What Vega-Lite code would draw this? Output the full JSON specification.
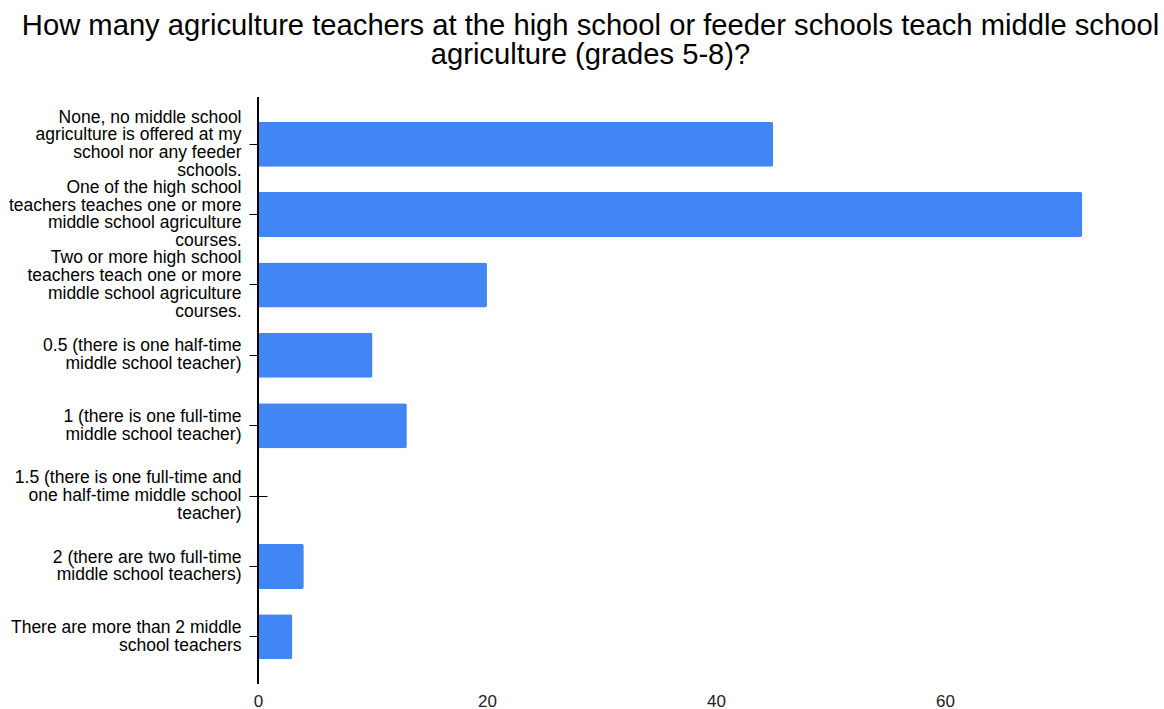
{
  "$schema": "https://vega.github.io/schema/vega-lite/v6.json",
  "width": 893,
  "height": 587,
  "autosize": {"type": "none"},
  "padding": {"left": 258, "top": 97, "right": 13, "bottom": 25},
  "background": "white",
  "title": {
    "text": ["How many agriculture teachers at the high school or feeder schools teach middle school", "agriculture (grades 5-8)?"],
    "anchor": "middle",
    "frame": "group",
    "dx": -114,
    "offset": 26,
    "font": "Liberation Sans",
    "fontSize": 29.2,
    "fontWeight": "normal",
    "color": "#000000",
    "lineHeight": 29
  },
  "config": {"view": {"stroke": null}},
  "data": {
    "values": [
      {"answer": "None, no middle school agriculture is offered at my school nor any feeder schools.", "count": 45},
      {"answer": "One of the high school teachers teaches one or more middle school agriculture courses.", "count": 72},
      {"answer": "Two or more high school teachers teach one or more middle school agriculture courses.", "count": 20},
      {"answer": "0.5 (there is one half-time middle school teacher)", "count": 10},
      {"answer": "1 (there is one full-time middle school teacher)", "count": 13},
      {"answer": "1.5 (there is one full-time and one half-time middle school teacher)", "count": 0},
      {"answer": "2 (there are two full-time middle school teachers)", "count": 4},
      {"answer": "There are more than 2 middle school teachers", "count": 3}
    ]
  },
  "layer": [
    {
      "mark": {"type": "bar", "color": "#4285f4", "cornerRadiusEnd": 2},
      "encoding": {
        "y": {
          "field": "answer",
          "type": "nominal",
          "sort": null,
          "scale": {"paddingInner": 0.36, "paddingOuter": 0.35},
          "axis": {
            "title": null,
            "domain": false,
            "ticks": true,
            "tickSize": 18,
            "tickColor": "#000000",
            "tickWidth": 1,
            "offset": -9,
            "labelPadding": 8,
            "labelFont": "Liberation Sans",
            "labelFontSize": 17.5,
            "labelColor": "#000000",
            "labelLineHeight": 17.7,
            "labelLimit": 300,
            "labelAlign": "right",
            "labelBaseline": "middle",
            "labelOffset": {
              "condition": [
                {"test": "indexof(datum.value, 'courses.') >= 0 || indexof(datum.value, 'None,') == 0", "value": -26.5},
                {"test": "indexof(datum.value, '1.5 ') == 0", "value": -17.7}
              ],
              "value": -8.85
            },
            "labelExpr": "{'None, no middle school agriculture is offered at my school nor any feeder schools.': ['None, no middle school', 'agriculture is offered at my', 'school nor any feeder', 'schools.'], 'One of the high school teachers teaches one or more middle school agriculture courses.': ['One of the high school', 'teachers teaches one or more', 'middle school agriculture', 'courses.'], 'Two or more high school teachers teach one or more middle school agriculture courses.': ['Two or more high school', 'teachers teach one or more', 'middle school agriculture', 'courses.'], '0.5 (there is one half-time middle school teacher)': ['0.5 (there is one half-time', 'middle school teacher)'], '1 (there is one full-time middle school teacher)': ['1 (there is one full-time', 'middle school teacher)'], '1.5 (there is one full-time and one half-time middle school teacher)': ['1.5 (there is one full-time and', 'one half-time middle school', 'teacher)'], '2 (there are two full-time middle school teachers)': ['2 (there are two full-time', 'middle school teachers)'], 'There are more than 2 middle school teachers': ['There are more than 2 middle', 'school teachers']}[datum.value]"
          }
        },
        "x": {
          "field": "count",
          "type": "quantitative",
          "scale": {"domain": [0, 78], "nice": false},
          "axis": {
            "title": null,
            "values": [0, 20, 40, 60],
            "domain": false,
            "ticks": false,
            "grid": false,
            "labelFlush": false,
            "labelPadding": 9,
            "labelFont": "Liberation Sans",
            "labelFontSize": 17,
            "labelColor": "#222222"
          }
        }
      }
    },
    {
      "mark": {"type": "rule", "color": "#000000", "strokeWidth": 1},
      "encoding": {"x": {"datum": 0}}
    }
  ]
}
